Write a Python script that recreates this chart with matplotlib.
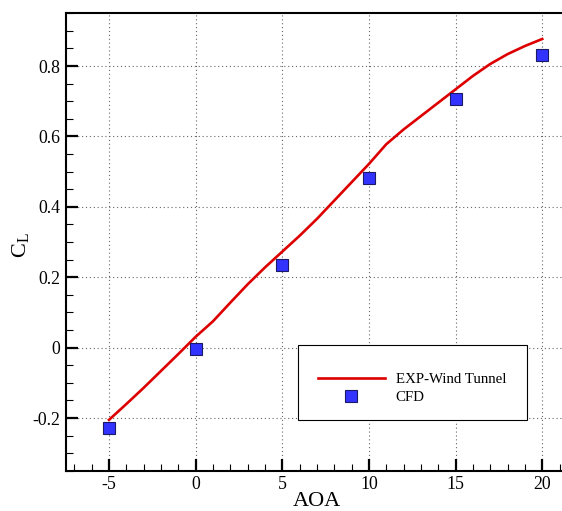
import matplotlib
matplotlib.use("Agg")
import matplotlib.pyplot as plt
from matplotlib.ticker import MultipleLocator, FormatStrFormatter
from matplotlib.patches import Rectangle

# Lift coefficient vs angle of attack
exp_aoa = [-5, -4, -3, -2, -1, 0, 1, 2, 3, 4, 5, 6, 7, 8, 9, 10, 11, 12, 13,
           14, 15, 16, 17, 18, 19, 20]
exp_cl = [-0.205, -0.160, -0.114, -0.066, -0.018, 0.031, 0.075, 0.128, 0.180,
          0.228, 0.273, 0.318, 0.366, 0.418, 0.470, 0.522, 0.578, 0.620, 0.658,
          0.696, 0.734, 0.772, 0.806, 0.834, 0.857, 0.877]

cfd_aoa = [-5, 0, 5, 10, 15, 20]
cfd_cl = [-0.228, -0.004, 0.236, 0.481, 0.707, 0.832]

exp_label = "EXP-Wind Tunnel"
cfd_label = "CFD"

plt.rcParams["font.family"] = ["Liberation Serif", "DejaVu Serif"]
plt.rcParams["mathtext.fontset"] = "custom"
plt.rcParams["mathtext.rm"] = "Liberation Serif"
plt.rcParams["mathtext.it"] = "Liberation Serif"
plt.rcParams["axes.unicode_minus"] = False

fig = plt.figure(figsize=(5.62, 5.11), dpi=100)
ax = fig.add_axes([0.1169, 0.0785, 0.925, 0.8955])

line, = ax.plot(exp_aoa, exp_cl, color="#dd0000", lw=1.9, zorder=3)
pts, = ax.plot(cfd_aoa, cfd_cl, ls="none", marker="s", ms=8.6,
               mfc="#3333ff", mec="#1a1a66", mew=0.8, zorder=4)

ax.set_xlim(-7.5, 22.5)
ax.set_ylim(-0.35, 0.95)

ax.xaxis.set_major_locator(MultipleLocator(5))
ax.xaxis.set_minor_locator(MultipleLocator(1))
ax.yaxis.set_major_locator(MultipleLocator(0.2))
ax.yaxis.set_minor_locator(MultipleLocator(0.05))
ax.xaxis.set_major_formatter(FormatStrFormatter("%g"))
ax.yaxis.set_major_formatter(FormatStrFormatter("%g"))

ax.tick_params(which="both", direction="in", top=False, right=False,
               labelsize=12.8, colors="black")
ax.tick_params(which="major", length=8.4, width=1.6, pad=4)
ax.tick_params(which="minor", length=4.8, width=0.8)

for s in ["left", "bottom", "top"]:
    ax.spines[s].set_linewidth(1.5)
ax.spines["right"].set_visible(False)

ax.grid(True, which="major", ls=(0, (1, 2.5)), color="#666666", lw=0.8)
ax.set_axisbelow(True)

ax.set_xlabel("AOA", fontsize=16)
ax.set_ylabel(r"C$_{\mathregular{L}}$", fontsize=16)
ax.xaxis.set_label_coords(0.483, -0.046)
ax.yaxis.set_label_coords(-0.066, 0.494)

# legend frame and entries
ax.add_patch(Rectangle((0.4474, 0.1112), 0.8879 - 0.4474, 0.2751 - 0.1112,
                       transform=ax.transAxes, fill=True, facecolor="white",
                       edgecolor="black", lw=0.8, zorder=5))
leg = ax.legend([line, pts], [exp_label, cfd_label], loc="upper left",
                bbox_to_anchor=(0.4847, 0.214), frameon=False,
                fontsize=10.7, handlelength=4.5, handletextpad=0.74,
                labelspacing=0.27, borderpad=0, borderaxespad=0)
leg.set_zorder(6)

fig.savefig("out.png", dpi=100)
